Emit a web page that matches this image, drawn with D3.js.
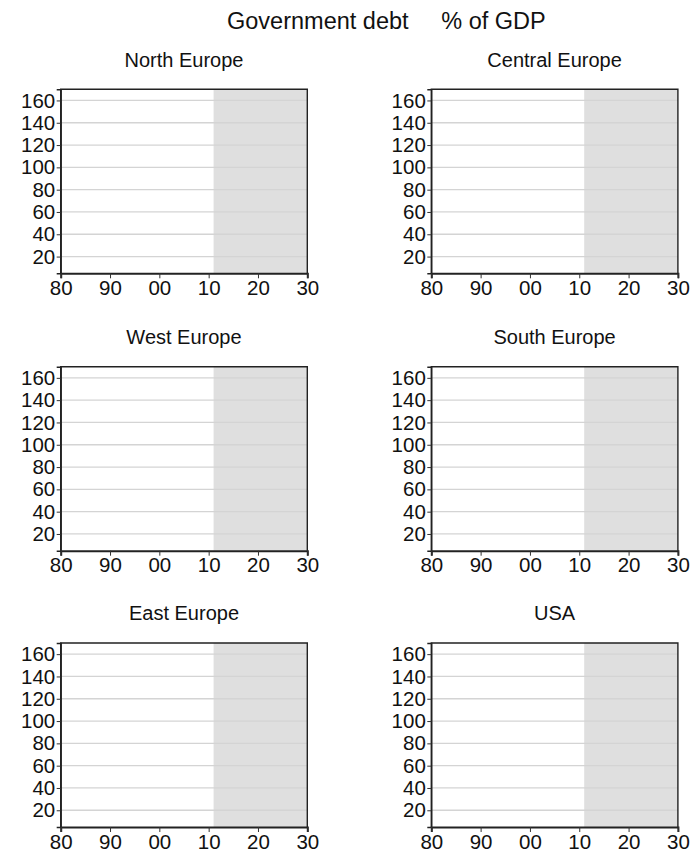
<!DOCTYPE html>
<html>
<head>
<meta charset="utf-8">
<script src="https://cdn.jsdelivr.net/npm/d3@7"></script>
<style>
  html, body { margin: 0; padding: 0; background: #fff; }
  svg { display: block; font-family: "Liberation Sans", Arial, sans-serif; }
</style>
</head>
<body>
<svg id="chart" width="692" height="854"></svg>
<script>
// Panels, in reading order
const regions = ["North Europe", "Central Europe", "West Europe", "South Europe", "East Europe", "USA"];
// Year axis
const yearDomain = [1980, 2030];
const yearTicks = [1980, 1990, 2000, 2010, 2020, 2030];
const yearLabels = ["80", "90", "00", "10", "20", "30"];
// Debt axis (% of GDP)
const debtDomain = [5, 170];
const debtTicks = [20, 40, 60, 80, 100, 120, 140, 160];
// Projection period, shaded
const forecastStart = 2011;
const forecastEnd = 2030;

const svg = d3.select("#chart");

// Layout
const colX = [60.7, 431.3];
const rowY = [89.3, 366.7, 643];
const pw = 246.6, ph = 184;

svg.append("text")
  .attr("x", 227).attr("y", 28.5)
  .attr("font-size", 23.5).attr("fill", "#111")
  .style("white-space", "pre")
  .text("Government debt     % of GDP");

regions.forEach((name, i) => {
  const col = i % 2, row = Math.floor(i / 2);
  const g = svg.append("g").attr("transform", `translate(${colX[col]},${rowY[row]})`);

  const x = d3.scaleLinear().domain(yearDomain).range([0, pw]);
  const y = d3.scaleLinear().domain(debtDomain).range([ph, 0]);

  // panel title
  g.append("text")
    .attr("x", pw / 2).attr("y", -22.6)
    .attr("text-anchor", "middle")
    .attr("font-size", 20).attr("fill", "#111")
    .text(name);

  // projection shading
  g.append("rect")
    .attr("x", x(forecastStart)).attr("y", 0)
    .attr("width", x(forecastEnd) - x(forecastStart)).attr("height", ph)
    .attr("fill", "#dfdfdf");

  // horizontal grid
  g.append("g").selectAll("line").data(debtTicks).join("line")
    .attr("x1", 0).attr("x2", pw)
    .attr("y1", d => y(d)).attr("y2", d => y(d))
    .attr("stroke", "#d4d4d4").attr("stroke-width", 1.3);

  // frame
  g.append("path")
    .attr("d", `M0,${ph}V0H${pw}V${ph}`)
    .attr("fill", "none").attr("stroke", "#222").attr("stroke-width", 1.4);

  // y axis
  const ya = g.append("g")
    .call(d3.axisLeft(y).tickValues(debtTicks).tickSize(4).tickPadding(1.5).tickFormat(d3.format("d")));
  ya.select(".domain").attr("stroke", "#222").attr("stroke-width", 1.4);
  ya.selectAll(".tick line").attr("stroke", "#333");
  ya.selectAll(".tick text").attr("font-size", 20.5).attr("fill", "#111")
    .attr("font-family", "Liberation Sans, Arial, sans-serif");

  // x axis
  const xa = g.append("g").attr("transform", `translate(0,${ph})`)
    .call(d3.axisBottom(x).tickValues(yearTicks).tickSize(5).tickPadding(2)
      .tickFormat((d, k) => yearLabels[k]));
  xa.select(".domain").attr("stroke", "#222").attr("stroke-width", 2);
  xa.selectAll(".tick line").attr("stroke", "#333");
  xa.selectAll(".tick text").attr("font-size", 20.5).attr("fill", "#111")
    .attr("font-family", "Liberation Sans, Arial, sans-serif");
});
</script>
</body>
</html>
